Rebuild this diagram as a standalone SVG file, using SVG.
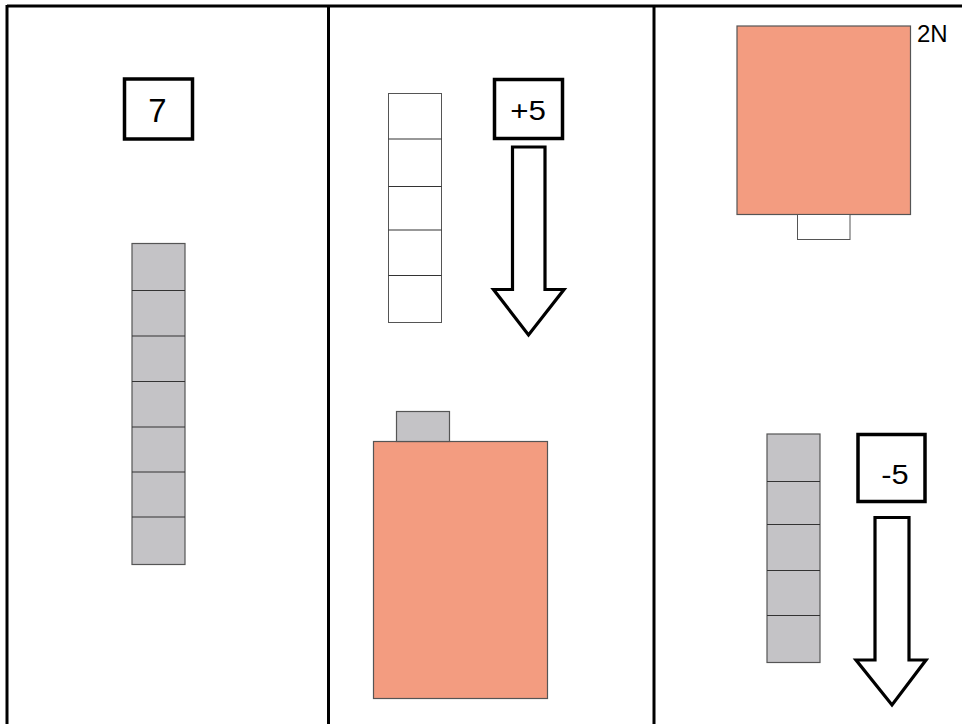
<svg xmlns="http://www.w3.org/2000/svg" width="962" height="724" viewBox="0 0 962 724">
<style>
.frame{stroke:#000;stroke-width:3;fill:none}
.box{fill:#fff;stroke:#000;stroke-width:3.5}
.lbl{font-family:"Liberation Sans",Arial,sans-serif;fill:#000;text-anchor:middle}
.cell{fill:#c4c3c6;stroke:#555;stroke-width:1.2}
.wcell{fill:#fff;stroke:#555;stroke-width:1}
.div{stroke:#333;stroke-width:1.2}
.orange{fill:#f39c80;stroke:#555;stroke-width:1.2}
.arrow{fill:#fff;stroke:#000;stroke-width:3.2;stroke-linejoin:miter}
</style>
<rect width="962" height="724" fill="#fff"/>
<g id="frame">
<line class="frame" x1="7" y1="6" x2="962" y2="6"/>
<line class="frame" x1="7" y1="5" x2="7" y2="724"/>
<line class="frame" x1="328.5" y1="5" x2="328.5" y2="724"/>
<line class="frame" x1="654" y1="5" x2="654" y2="724"/>
</g>
<g id="box7">
<rect class="box" x="124.5" y="79" width="68" height="60"/>
<text class="lbl" x="157.5" y="121.5" font-size="33">7</text>
</g>
<g id="stack7">
<rect class="cell" x="132" y="243.5" width="53" height="321"/>
<line class="div" x1="132" y1="290.5" x2="185" y2="290.5"/>
<line class="div" x1="132" y1="336" x2="185" y2="336"/>
<line class="div" x1="132" y1="381.5" x2="185" y2="381.5"/>
<line class="div" x1="132" y1="427" x2="185" y2="427"/>
<line class="div" x1="132" y1="472" x2="185" y2="472"/>
<line class="div" x1="132" y1="517" x2="185" y2="517"/>
</g>
<g id="stack5white">
<rect class="wcell" x="388.5" y="93.5" width="53" height="229"/>
<line class="div" x1="388.5" y1="139" x2="441.5" y2="139" stroke-width="1"/>
<line class="div" x1="388.5" y1="186.5" x2="441.5" y2="186.5" stroke-width="1"/>
<line class="div" x1="388.5" y1="230" x2="441.5" y2="230" stroke-width="1"/>
<line class="div" x1="388.5" y1="275.5" x2="441.5" y2="275.5" stroke-width="1"/>
</g>
<g id="boxPlus5">
<rect class="box" x="494.5" y="79.5" width="68" height="59"/>
<text class="lbl" transform="translate(528,120) scale(1.12,1)" font-size="28">+5</text>
</g>
<g id="arrowPlus">
<polygon class="arrow" points="512.5,147 545,147 545,289.5 564,289.5 528.5,335 493.5,289.5 512.5,289.5"/>
</g>
<g id="block2N">
<rect class="orange" x="373.5" y="441.5" width="174" height="257"/>
<rect class="cell" x="396.5" y="411.5" width="53" height="30"/>
</g>
<g id="blockTop">
<rect class="orange" x="737" y="26" width="173.5" height="188.5"/>
<rect class="wcell" x="797.5" y="214.5" width="52.5" height="25"/>
<text x="917" y="41.5" font-family="Liberation Sans,Arial,sans-serif" font-size="24" fill="#000">2N</text>
</g>
<g id="stack5gray">
<rect class="cell" x="767" y="434" width="53" height="228.5"/>
<line class="div" x1="767" y1="481.5" x2="820" y2="481.5"/>
<line class="div" x1="767" y1="524.5" x2="820" y2="524.5"/>
<line class="div" x1="767" y1="570.5" x2="820" y2="570.5"/>
<line class="div" x1="767" y1="615.5" x2="820" y2="615.5"/>
</g>
<g id="boxMinus5">
<rect class="box" x="858" y="434.5" width="67" height="67"/>
<text class="lbl" transform="translate(895,483.5) scale(1.1,1)" font-size="28">-5</text>
</g>
<g id="arrowMinus">
<polygon class="arrow" points="875,517.5 909,517.5 909,660 926,660 892,705 856,660 875,660"/>
</g>
</svg>
